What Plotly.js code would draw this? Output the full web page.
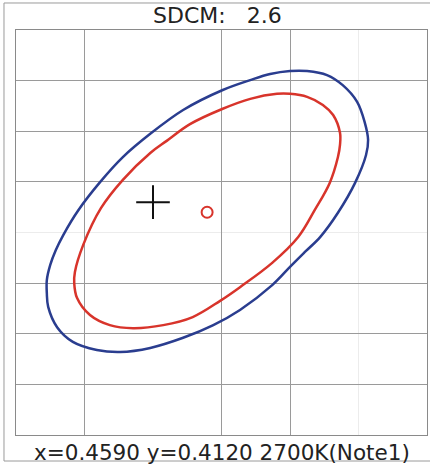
<!DOCTYPE html>
<html>
<head>
<meta charset="utf-8">
<script src="https://cdn.plot.ly/plotly-3.0.1.min.js"></script>
<style>html,body{margin:0;padding:0;background:#fff;}#chart{width:430px;height:470px;}</style>
</head>
<body>
<div id="chart"></div>
<script>
// Chart values (chromaticity coordinates)
const titleText = "SDCM:   2.6";
const footText = "x=0.4590 y=0.4120 2700K(Note1)";

const targetX = [0.4590];
const targetY = [0.4120];

const measuredX = [0.45979];
const measuredY = [0.41180];

const outerX = [0.45745,0.45745,0.45750,0.45758,0.45769,0.45791,0.45823,0.45856,0.45896,0.45944,0.46001,0.46042,0.46071,0.46100,0.46125,0.46154,0.46177,0.46198,0.46209,0.46214,0.46211,0.46195,0.46170,0.46144,0.46123,0.46100,0.46074,0.46027,0.45988,0.45944,0.45896,0.45852,0.45818,0.45783,0.45760,0.45747,0.45745];
const outerY = [0.41020,0.41046,0.41076,0.41105,0.41135,0.41184,0.41240,0.41289,0.41335,0.41382,0.41421,0.41441,0.41453,0.41459,0.41459,0.41451,0.41431,0.41398,0.41358,0.41323,0.41293,0.41238,0.41179,0.41131,0.41103,0.41072,0.41036,0.40987,0.40957,0.40932,0.40912,0.40904,0.40908,0.40924,0.40953,0.40993,0.41020];

const innerX = [0.45789,0.45785,0.45786,0.45798,0.45824,0.45856,0.45896,0.45920,0.45954,0.46001,0.46042,0.46081,0.46100,0.46125,0.46148,0.46163,0.46173,0.46173,0.46170,0.46158,0.46136,0.46112,0.46074,0.46027,0.45998,0.45958,0.45915,0.45871,0.45837,0.45808,0.45789];
const innerY = [0.41011,0.41040,0.41062,0.41115,0.41188,0.41244,0.41297,0.41321,0.41354,0.41384,0.41404,0.41414,0.41414,0.41408,0.41392,0.41372,0.41337,0.41313,0.41289,0.41238,0.41184,0.41131,0.41080,0.41032,0.41005,0.40973,0.40957,0.40951,0.40957,0.40977,0.41011];

const xRange = [0.4570, 0.4630];
const yRange = [0.4074, 0.4154];
const xGrid = [0.458, 0.460, 0.461];
const yGrid = [0.4084, 0.4094, 0.4104, 0.4124, 0.4134, 0.4144];
const xGridFaint = [0.462];
const yGridFaint = [0.4114];

const blue = "#2a3d8f";
const red = "#d8342b";

const traces = [
  {x: outerX, y: outerY, mode: "lines", line: {color: blue, width: 2.5, shape: "spline", smoothing: 1}, hoverinfo: "skip"},
  {x: innerX, y: innerY, mode: "lines", line: {color: red, width: 2.5, shape: "spline", smoothing: 1}, hoverinfo: "skip"},
  {x: targetX, y: targetY, mode: "markers", marker: {symbol: "cross-thin", size: 24, line: {color: "#111", width: 2}}, hoverinfo: "skip"},
  {x: measuredX, y: measuredY, mode: "markers", marker: {symbol: "circle-open", size: 11, color: red, line: {color: red, width: 2}}, hoverinfo: "skip"}
];

const shapes = [];
xGridFaint.forEach(v => shapes.push({type: "line", xref: "x", yref: "paper", x0: v, x1: v, y0: 0, y1: 1, line: {color: "#ececec", width: 1}, layer: "below"}));
yGridFaint.forEach(v => shapes.push({type: "line", xref: "paper", yref: "y", x0: 0, x1: 1, y0: v, y1: v, line: {color: "#ececec", width: 1}, layer: "below"}));
// outer frame
shapes.push({type: "rect", xref: "paper", yref: "paper", x0: -0.0292, x1: 1.03, y0: -0.0642, y1: 1.0667, line: {color: "#9a9a9a", width: 1}, layer: "below"});

const layout = {
  width: 430, height: 470,
  margin: {l: 16, r: 3, t: 30, b: 35, pad: 0},
  paper_bgcolor: "#fff", plot_bgcolor: "#fff",
  showlegend: false,
  font: {family: "DejaVu Sans, Verdana, sans-serif", color: "#222"},
  xaxis: {range: xRange, tickvals: xGrid, showticklabels: false, ticks: "", showgrid: true, gridcolor: "#9a9a9a", gridwidth: 1, zeroline: false, showline: true, mirror: true, linecolor: "#8a8a8a", linewidth: 1, fixedrange: true},
  yaxis: {range: yRange, tickvals: yGrid, showticklabels: false, ticks: "", showgrid: true, gridcolor: "#9a9a9a", gridwidth: 1, zeroline: false, showline: true, mirror: true, linecolor: "#8a8a8a", linewidth: 1, fixedrange: true},
  shapes: shapes,
  annotations: [
    {text: titleText, xref: "paper", yref: "paper", x: 0.49, y: 1.036, xanchor: "center", yanchor: "middle", showarrow: false, font: {size: 22, color: "#222"}},
    {text: footText, xref: "paper", yref: "paper", x: 0.5, y: -0.042, xanchor: "center", yanchor: "middle", showarrow: false, font: {size: 21.5, color: "#222"}}
  ]
};

Plotly.newPlot("chart", traces, layout, {staticPlot: true, displayModeBar: false});
</script>
</body>
</html>
